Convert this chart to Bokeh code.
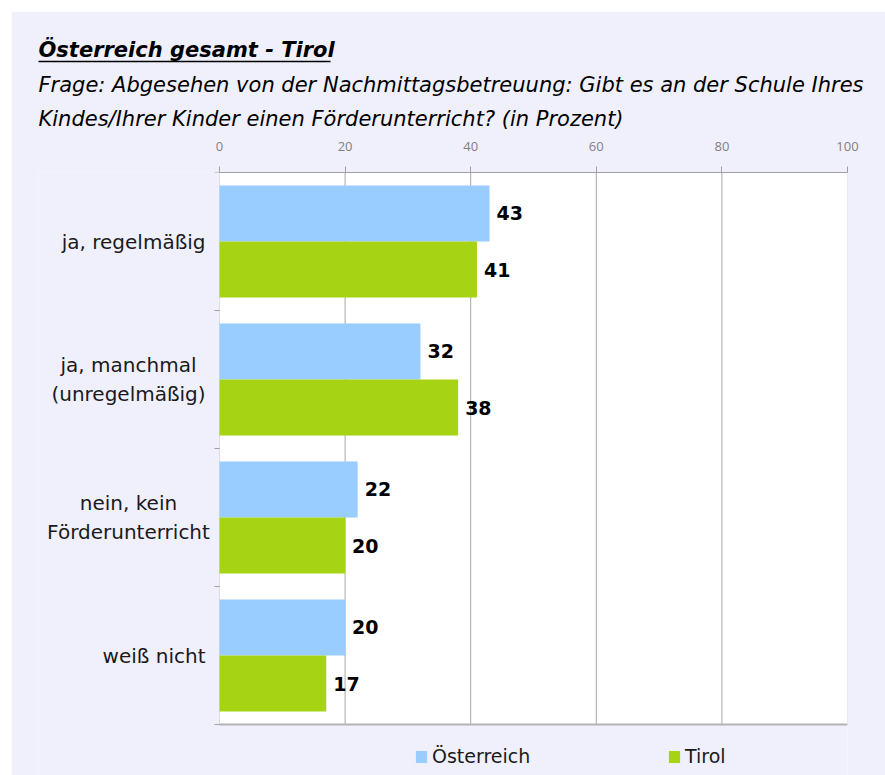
from bokeh.plotting import figure
from bokeh.models import (Range1d, LinearAxis, FixedTicker, Title, BoxAnnotation,
                          ColumnDataSource, Legend, LegendItem)
from bokeh.core.properties import value
from bokeh.embed import file_html
from bokeh.resources import INLINE

# ---- data ----
categories = ["ja, regelmäßig", "ja, manchmal\n(unregelmäßig)",
              "nein, kein\nFörderunterricht", "weiß nicht"]
oesterreich = [43, 32, 22, 20]
tirol = [41, 38, 20, 17]
series_names = ["Österreich", "Tirol"]
x_ticks = [0, 20, 40, 60, 80, 100]
title_text = "Österreich gesamt - Tirol"
subtitle_lines = ["Frage: Abgesehen von der Nachmittagsbetreuung: Gibt es an der Schule Ihres",
                  "Kindes/Ihrer Kinder einen Förderunterricht? (in Prozent)"]

BLUE = "#99ccff"
GREEN = "#a6d415"
BG = "#f0f0fc"
GRAY = "#a0a0a0"

# ---- layout (pixels) ----
W, H = 874, 764
TEXT_LEFT = 27          # left edge of the titles = left edge of the frame
BOX_LEFT = 208          # left edge of the white plot box
BOX_W = 628             # width of the white plot box
RIGHT = W - BOX_LEFT - BOX_W
TOP = 161
PLOT_H = 552
LEGEND_ZONE = 51
TITLE_W = 292
LABEL_GAP = 14
MULTI_CENTER = 91
TICK_LEN = 5

n = len(categories)
px_x = BOX_W / (x_ticks[-1] - x_ticks[0])
x_lo = x_ticks[0] - (BOX_LEFT - TEXT_LEFT) / px_x
px_y = PLOT_H / n
y_lo = -LEGEND_ZONE / px_y

centers = [n - i - 0.5 for i in range(n)]
off = 0.203
bar_h = 0.406

src_a = ColumnDataSource(dict(y=[c + off for c in centers], v=oesterreich,
                              t=[str(v) for v in oesterreich]))
src_b = ColumnDataSource(dict(y=[c - off for c in centers], v=tirol,
                              t=[str(v) for v in tirol]))
multi = ["\n" in c for c in categories]
src_c = ColumnDataSource(dict(
    y=centers, t=categories, x=[x_ticks[0]] * n,
    dx=[-MULTI_CENTER if m else -LABEL_GAP for m in multi],
    al=["center" if m else "right" for m in multi]))

p = figure(width=W, height=H, output_backend="svg", toolbar_location=None,
           x_range=Range1d(x_lo, x_ticks[-1]), y_range=Range1d(y_lo, n),
           x_axis_location=None, y_axis_location=None,
           min_border_left=TEXT_LEFT, min_border_right=RIGHT, min_border_top=TOP,
           min_border_bottom=0)
p.margin = (11, 0, 0, 11)
p.background_fill_color = BG
p.border_fill_color = BG
p.outline_line_color = None
p.xgrid.grid_line_color = None
p.ygrid.grid_line_color = None

# white plot box with its border
p.add_layout(BoxAnnotation(left=x_ticks[0], right=x_ticks[-1], bottom=0, top=n,
                           fill_color="white", fill_alpha=1, line_color=GRAY,
                           line_width=1, level="underlay"))
# vertical grid lines
inner = x_ticks[1:-1]
p.segment(x0=inner, y0=[0] * len(inner), x1=inner, y1=[n] * len(inner),
          line_color="#a8a8a8", line_width=1)
# category boundary ticks on the left edge
bounds_y = list(range(n + 1))
p.segment(x0=[x_ticks[0] - TICK_LEN / px_x] * (n + 1), y0=bounds_y,
          x1=[x_ticks[0]] * (n + 1), y1=bounds_y, line_color=GRAY, line_width=1)
# bottom edge slightly heavier
p.segment(x0=[x_ticks[0]], y0=[0], x1=[x_ticks[-1]], y1=[0], line_color="#b4b4b4",
          line_width=2)

r_a = p.hbar(y="y", right="v", left=0, height=bar_h, source=src_a,
             fill_color=BLUE, line_color=None)
r_b = p.hbar(y="y", right="v", left=0, height=bar_h, source=src_b,
             fill_color=GREEN, line_color=None)

for s in (src_a, src_b):
    p.text(x="v", y="y", text="t", source=s, x_offset=7, text_baseline="middle",
           text_align="left", text_font=value("DejaVu Sans"), text_font_style="bold",
           text_font_size="19px", text_color="black")

# category labels
p.text(x="x", y="y", text="t", source=src_c, x_offset="dx", text_align="al",
       text_baseline="middle", text_font=value("DejaVu Sans"), text_font_size="20px",
       text_color="#1a1a1a", text_line_height=1.2)

# top axis
xa = LinearAxis(ticker=FixedTicker(ticks=x_ticks), bounds=(x_ticks[0], x_ticks[-1]))
xa.axis_line_color = GRAY
xa.major_tick_line_color = GRAY
xa.major_tick_out = 6
xa.major_tick_in = 0
xa.minor_tick_line_color = None
xa.major_label_text_color = "#808080"
xa.major_label_text_font = "Open Sans"
xa.major_label_text_font_size = "13px"
xa.major_label_standoff = 16
p.add_layout(xa, "above")

# titles (stacked outward from the axis)
p.add_layout(Title(text=subtitle_lines[1], align="left", standoff=15,
                   text_font="DejaVu Sans", text_font_style="italic",
                   text_font_size="21px", text_color="black"), "above")
p.add_layout(Title(text=subtitle_lines[0], align="left", standoff=2,
                   text_font="DejaVu Sans", text_font_style="italic",
                   text_font_size="21px", text_color="black"), "above")
# small gap, then the underline of the main title
p.add_layout(Title(text=" ", align="left", standoff=5, text_font_size="1px"), "above")
ul = LinearAxis(ticker=FixedTicker(ticks=[]), bounds=(x_lo, x_lo + TITLE_W / px_x))
ul.axis_line_color = "black"
ul.axis_line_width = 1.5
ul.major_tick_out = 0
ul.major_tick_in = 0
ul.minor_tick_out = 0
ul.minor_tick_in = 0
ul.major_label_text_font_size = "0px"
ul.major_label_standoff = 0
p.add_layout(ul, "above")
p.add_layout(Title(text=title_text, align="left", standoff=0,
                   text_font="DejaVu Sans", text_font_style="bold italic",
                   text_font_size="21px", text_color="black"), "above")

# legends under the plot box
for r, name, lx in ((r_a, series_names[0], 376), (r_b, series_names[1], 629)):
    lg = Legend(items=[LegendItem(label=name, renderers=[r])], location=(lx, 8),
                orientation="horizontal", glyph_width=14, glyph_height=15,
                label_standoff=4, padding=0, margin=0, border_line_color=None,
                background_fill_alpha=0, label_text_font="DejaVu Sans",
                label_text_font_size="19px", label_text_color="#1a1a1a")
    p.add_layout(lg, "center")

open("out.html", "w").write(file_html(p, INLINE))
